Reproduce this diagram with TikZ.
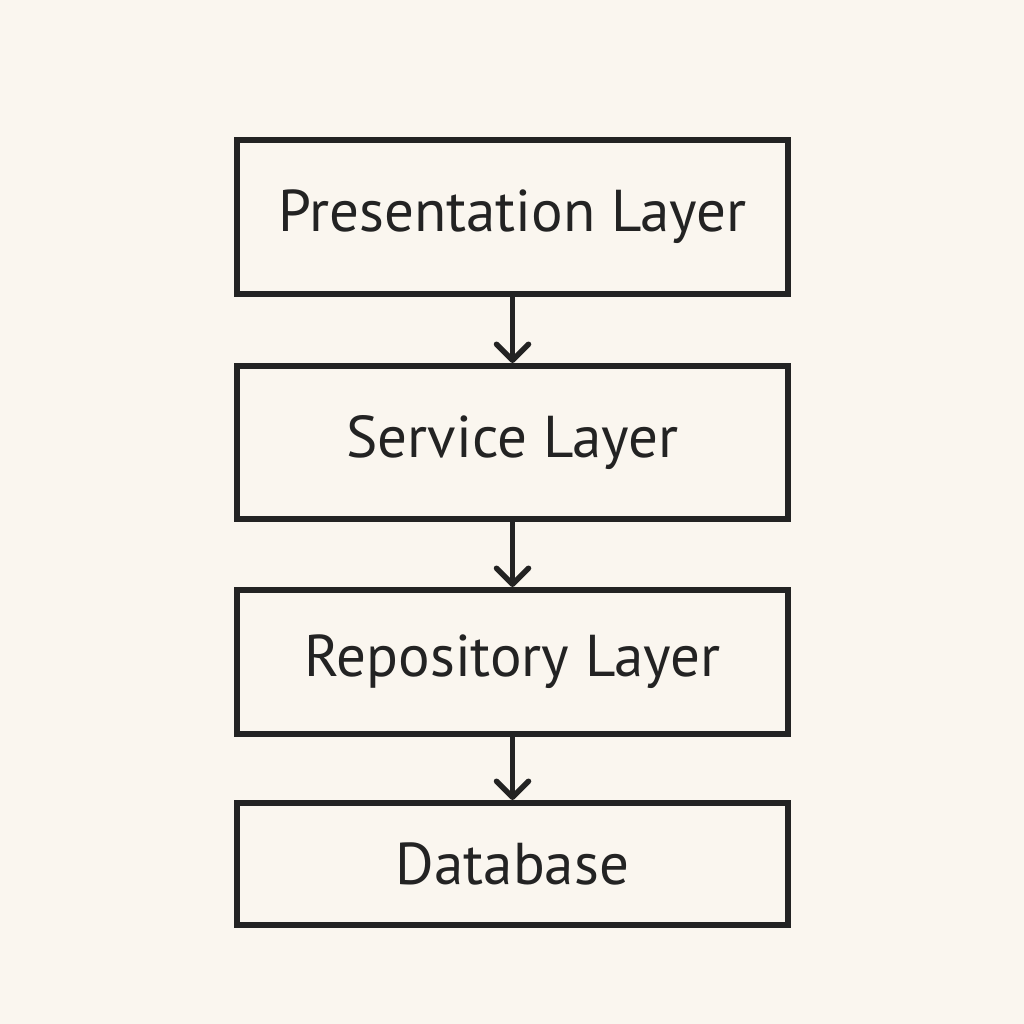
\documentclass[tikz,border=0pt]{standalone}
\usepackage{fontspec}
\setmainfont{PT Sans}
\usetikzlibrary{arrows.meta}
\definecolor{bg}{HTML}{FAF6EF}
\definecolor{ink}{HTML}{232323}
\tikzset{
  layer/.style={draw=ink, line width=6pt, minimum width=551pt, inner sep=0pt,
    text=ink, font=\fontsize{59}{63}\selectfont},
  conn/.style={draw=ink, line width=5.5pt, line cap=round,
    -{Straight Barb[length=16pt, width=32pt, line width=5.5pt, round]}}
}
\begin{document}
\begin{tikzpicture}[x=1pt,y=-1pt]
\fill[bg] (0,0) rectangle (1024,1024);
\useasboundingbox (0,0) rectangle (1024,1024);
\node[layer, minimum height=154pt] (p) at (512.5,217) {Presentation Layer};
\node[layer, minimum height=153pt] (s) at (512.5,442.5) {Service Layer};
\node[layer, minimum height=144pt] (r) at (512.5,662) {Repository Layer};
\node[layer, minimum height=122pt] (d) at (512.5,864) {Database};
\draw[conn] (p.south) -- (s.north);
\draw[conn] (s.south) -- (r.north);
\draw[conn] (r.south) -- (d.north);
\end{tikzpicture}
\end{document}
